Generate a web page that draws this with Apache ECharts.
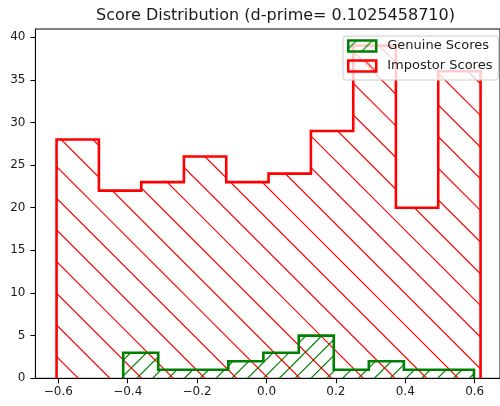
<!DOCTYPE html>
<html>
<head>
<meta charset="utf-8">
<script src="https://cdn.jsdelivr.net/npm/echarts@6/dist/echarts.min.js"></script>
<style>
  html, body { margin: 0; padding: 0; background: #fff; }
  #chart { width: 500px; height: 406px; }
</style>
</head>
<body>
<div id="chart"></div>
<script>
// Histogram bin edges and counts for the two score populations
const genuineEdges = [-0.413, -0.312, -0.211, -0.110, -0.009, 0.093, 0.194, 0.295, 0.396, 0.497, 0.598];
const genuineCounts = [3, 1, 1, 2, 3, 5, 1, 2, 1, 1];
const impostorEdges = [-0.605, -0.483, -0.361, -0.238, -0.116, 0.006, 0.128, 0.250, 0.373, 0.495, 0.617];
const impostorCounts = [28, 22, 23, 26, 23, 24, 29, 39, 20, 36];

// Axis ticks
const xTicks = [-0.6, -0.4, -0.2, 0.0, 0.2, 0.4, 0.6];
const yTicks = [0, 5, 10, 15, 20, 25, 30, 35, 40];

const titleText = 'Score Distribution (d-prime= 0.1025458710)';
const seriesNames = ['Genuine Scores', 'Impostor Scores'];

const RED = '#ff0000';
const GREEN = '#008000';
const FONT = 'DejaVu Sans';

// Diagonal hatch tile; dir '\\' draws y - x = c, dir '/' draws x + y = c
function hatch(color, period, dir, phase) {
  const T = 95;
  const cv = document.createElement('canvas');
  cv.width = T; cv.height = T;
  const ctx = cv.getContext('2d');
  ctx.strokeStyle = color;
  ctx.lineWidth = 1.2;
  ctx.beginPath();
  for (let k = -8; k <= 16; k++) {
    const c = phase + k * period;
    if (dir === '\\') {
      ctx.moveTo(-5, c - 5); ctx.lineTo(T + 5, c + T + 5);
    } else {
      ctx.moveTo(-5, c + 5); ctx.lineTo(T + 5, c - T - 5);
    }
  }
  ctx.stroke();
  return { image: cv, repeat: 'repeat' };
}

const redHatch = hatch(RED, 95 / 3, '\\', 15);
const greenHatch = hatch(GREEN, 95 / 6, '/', 8.4);

// Step outline of a histogram: up at the first edge, across each bin, down at the last edge
function stepPoints(edges, counts) {
  const pts = [[edges[0], 0]];
  counts.forEach((c, i) => {
    pts.push([edges[i], c]);
    pts.push([edges[i + 1], c]);
  });
  pts.push([edges[edges.length - 1], 0]);
  return pts;
}

function fmtX(v) {
  return (v < 0 ? '\u2212' : '') + Math.abs(v).toFixed(1);
}

const chart = echarts.init(document.getElementById('chart'), null, { renderer: 'canvas' });

chart.setOption({
  animation: false,
  backgroundColor: '#ffffff',
  title: {
    text: titleText,
    left: 91,
    top: 3,
    textStyle: { fontFamily: FONT, fontSize: 16, fontWeight: 'normal', color: '#1a1a1a' }
  },
  legend: {
    orient: 'vertical',
    left: 343,
    top: 36,
    padding: [3, 6, 7, 4],
    itemWidth: 28,
    itemHeight: 11,
    itemGap: 6,
    backgroundColor: 'rgba(255,255,255,0.8)',
    borderColor: '#cccccc',
    borderWidth: 1,
    borderRadius: 3,
    textStyle: { fontFamily: FONT, fontSize: 13, color: '#1a1a1a', lineHeight: 14, padding: [0, 0, 0, 6] },
    data: [
      { name: seriesNames[0], icon: 'rect', itemStyle: { color: greenHatch, borderColor: GREEN, borderWidth: 2.5 } },
      { name: seriesNames[1], icon: 'rect', itemStyle: { color: redHatch, borderColor: RED, borderWidth: 2.5 } }
    ]
  },
  grid: {
    left: 35.4,
    right: 0,
    top: 29,
    bottom: 27.7,
    show: true,
    borderColor: '#000',
    borderWidth: 1,
    backgroundColor: 'transparent'
  },
  xAxis: {
    type: 'value',
    min: -0.666,
    max: 0.673,
    splitLine: { show: false },
    axisLine: { onZero: false, lineStyle: { color: '#000', width: 1 } },
    axisTick: { show: true, length: 5, lineStyle: { color: '#000' }, customValues: xTicks },
    axisLabel: {
      customValues: xTicks,
      formatter: fmtX,
      margin: 8,
      fontFamily: FONT, fontSize: 12, color: '#1a1a1a'
    }
  },
  yAxis: {
    type: 'value',
    min: 0,
    max: 40.95,
    splitLine: { show: false },
    axisLine: { show: true, onZero: false, lineStyle: { color: '#000', width: 1 } },
    axisTick: { show: true, length: 5, lineStyle: { color: '#000' }, customValues: yTicks },
    axisLabel: {
      customValues: yTicks,
      margin: 10,
      fontFamily: FONT, fontSize: 12, color: '#1a1a1a'
    }
  },
  series: [
    {
      name: seriesNames[0],
      type: 'line',
      data: stepPoints(genuineEdges, genuineCounts),
      symbol: 'none',
      lineStyle: { color: GREEN, width: 2.6, join: 'miter', cap: 'butt' },
      itemStyle: { color: GREEN },
      areaStyle: { color: greenHatch, opacity: 1 },
      z: 2
    },
    {
      name: seriesNames[1],
      type: 'line',
      data: stepPoints(impostorEdges, impostorCounts),
      symbol: 'none',
      lineStyle: { color: RED, width: 2.6, join: 'miter', cap: 'butt' },
      itemStyle: { color: RED },
      areaStyle: { color: redHatch, opacity: 1 },
      z: 2
    }
  ]
});
</script>
</body>
</html>
